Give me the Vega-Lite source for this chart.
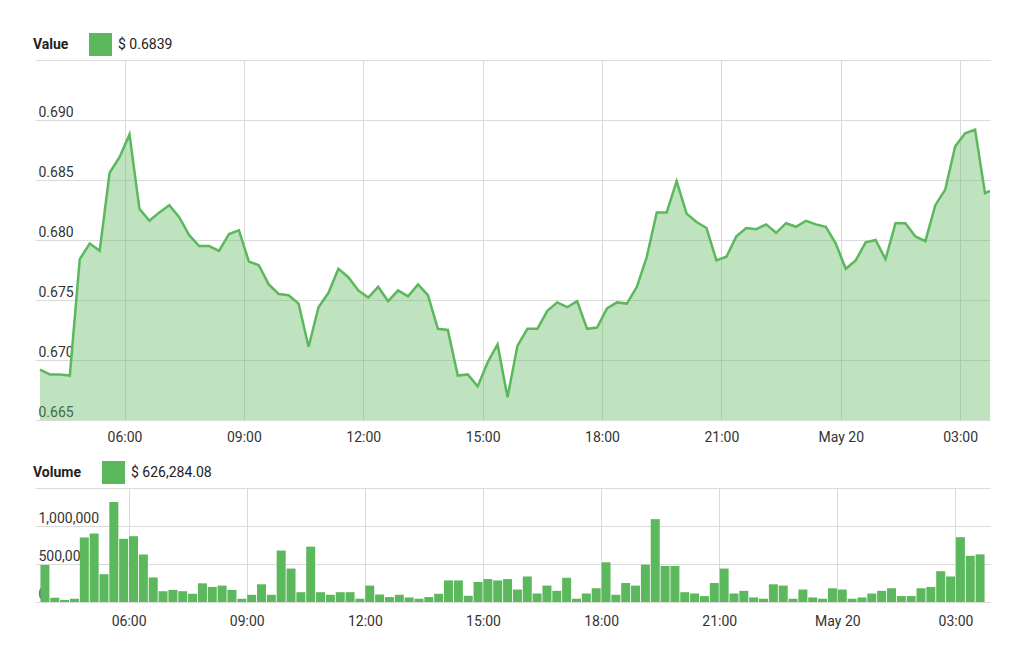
{
  "$schema": "https://vega.github.io/schema/vega-lite/v6.json",
  "background": "white",
  "padding": {"left": 33, "top": 33, "right": 5, "bottom": 5},
  "config": {
    "view": {"stroke": null},
    "font": "Roboto",
    "axis": {"domain": false, "ticks": false, "tickSize": 0, "title": null, "gridColor": "#dadada", "gridWidth": 1, "labelFontSize": 14, "labelColor": "#333333", "labelFont": "Roboto", "zindex": 1}
  },
  "data": {"values": [
    {"t": "2019-05-19T03:52:30Z", "value": 0.6692, "volume": 487000},
    {"t": "2019-05-19T04:07:30Z", "value": 0.6688, "volume": 56000},
    {"t": "2019-05-19T04:22:30Z", "value": 0.6688, "volume": 26000},
    {"t": "2019-05-19T04:37:30Z", "value": 0.6687, "volume": 43000},
    {"t": "2019-05-19T04:52:30Z", "value": 0.6784, "volume": 849000},
    {"t": "2019-05-19T05:07:30Z", "value": 0.6797, "volume": 901000},
    {"t": "2019-05-19T05:22:30Z", "value": 0.6791, "volume": 366000},
    {"t": "2019-05-19T05:37:30Z", "value": 0.6856, "volume": 1315000},
    {"t": "2019-05-19T05:52:30Z", "value": 0.6869, "volume": 832000},
    {"t": "2019-05-19T06:07:30Z", "value": 0.6888, "volume": 866000},
    {"t": "2019-05-19T06:22:30Z", "value": 0.6826, "volume": 625000},
    {"t": "2019-05-19T06:37:30Z", "value": 0.6816, "volume": 323000},
    {"t": "2019-05-19T06:52:30Z", "value": 0.6823, "volume": 142000},
    {"t": "2019-05-19T07:07:30Z", "value": 0.6829, "volume": 159000},
    {"t": "2019-05-19T07:22:30Z", "value": 0.6819, "volume": 142000},
    {"t": "2019-05-19T07:37:30Z", "value": 0.6804, "volume": 108000},
    {"t": "2019-05-19T07:52:30Z", "value": 0.6795, "volume": 246000},
    {"t": "2019-05-19T08:07:30Z", "value": 0.6795, "volume": 198000},
    {"t": "2019-05-19T08:22:30Z", "value": 0.6791, "volume": 216000},
    {"t": "2019-05-19T08:37:30Z", "value": 0.6805, "volume": 159000},
    {"t": "2019-05-19T08:52:30Z", "value": 0.6808, "volume": 43000},
    {"t": "2019-05-19T09:07:30Z", "value": 0.6782, "volume": 95000},
    {"t": "2019-05-19T09:22:30Z", "value": 0.6779, "volume": 233000},
    {"t": "2019-05-19T09:37:30Z", "value": 0.6763, "volume": 95000},
    {"t": "2019-05-19T09:52:30Z", "value": 0.6755, "volume": 677000},
    {"t": "2019-05-19T10:07:30Z", "value": 0.6754, "volume": 440000},
    {"t": "2019-05-19T10:22:30Z", "value": 0.6747, "volume": 129000},
    {"t": "2019-05-19T10:37:30Z", "value": 0.6711, "volume": 728000},
    {"t": "2019-05-19T10:52:30Z", "value": 0.6744, "volume": 129000},
    {"t": "2019-05-19T11:07:30Z", "value": 0.6756, "volume": 95000},
    {"t": "2019-05-19T11:22:30Z", "value": 0.6776, "volume": 129000},
    {"t": "2019-05-19T11:37:30Z", "value": 0.6769, "volume": 129000},
    {"t": "2019-05-19T11:52:30Z", "value": 0.6758, "volume": 43000},
    {"t": "2019-05-19T12:07:30Z", "value": 0.6752, "volume": 216000},
    {"t": "2019-05-19T12:22:30Z", "value": 0.6761, "volume": 99000},
    {"t": "2019-05-19T12:37:30Z", "value": 0.6749, "volume": 65000},
    {"t": "2019-05-19T12:52:30Z", "value": 0.6758, "volume": 95000},
    {"t": "2019-05-19T13:07:30Z", "value": 0.6753, "volume": 60000},
    {"t": "2019-05-19T13:22:30Z", "value": 0.6763, "volume": 43000},
    {"t": "2019-05-19T13:37:30Z", "value": 0.6754, "volume": 65000},
    {"t": "2019-05-19T13:52:30Z", "value": 0.6726, "volume": 108000},
    {"t": "2019-05-19T14:07:30Z", "value": 0.6725, "volume": 284000},
    {"t": "2019-05-19T14:22:30Z", "value": 0.6687, "volume": 284000},
    {"t": "2019-05-19T14:37:30Z", "value": 0.6688, "volume": 82000},
    {"t": "2019-05-19T14:52:30Z", "value": 0.6678, "volume": 263000},
    {"t": "2019-05-19T15:07:30Z", "value": 0.6698, "volume": 302000},
    {"t": "2019-05-19T15:22:30Z", "value": 0.6713, "volume": 284000},
    {"t": "2019-05-19T15:37:30Z", "value": 0.6669, "volume": 302000},
    {"t": "2019-05-19T15:52:30Z", "value": 0.6712, "volume": 164000},
    {"t": "2019-05-19T16:07:30Z", "value": 0.6726, "volume": 336000},
    {"t": "2019-05-19T16:22:30Z", "value": 0.6726, "volume": 112000},
    {"t": "2019-05-19T16:37:30Z", "value": 0.6741, "volume": 216000},
    {"t": "2019-05-19T16:52:30Z", "value": 0.6748, "volume": 147000},
    {"t": "2019-05-19T17:07:30Z", "value": 0.6744, "volume": 319000},
    {"t": "2019-05-19T17:22:30Z", "value": 0.6749, "volume": 43000},
    {"t": "2019-05-19T17:37:30Z", "value": 0.6726, "volume": 112000},
    {"t": "2019-05-19T17:52:30Z", "value": 0.6727, "volume": 181000},
    {"t": "2019-05-19T18:07:30Z", "value": 0.6743, "volume": 522000},
    {"t": "2019-05-19T18:22:30Z", "value": 0.6748, "volume": 95000},
    {"t": "2019-05-19T18:37:30Z", "value": 0.6747, "volume": 250000},
    {"t": "2019-05-19T18:52:30Z", "value": 0.6761, "volume": 216000},
    {"t": "2019-05-19T19:07:30Z", "value": 0.6786, "volume": 491000},
    {"t": "2019-05-19T19:22:30Z", "value": 0.6823, "volume": 1090000},
    {"t": "2019-05-19T19:37:30Z", "value": 0.6823, "volume": 474000},
    {"t": "2019-05-19T19:52:30Z", "value": 0.6849, "volume": 474000},
    {"t": "2019-05-19T20:07:30Z", "value": 0.6822, "volume": 129000},
    {"t": "2019-05-19T20:22:30Z", "value": 0.6815, "volume": 112000},
    {"t": "2019-05-19T20:37:30Z", "value": 0.6810, "volume": 78000},
    {"t": "2019-05-19T20:52:30Z", "value": 0.6783, "volume": 250000},
    {"t": "2019-05-19T21:07:30Z", "value": 0.6786, "volume": 440000},
    {"t": "2019-05-19T21:22:30Z", "value": 0.6803, "volume": 112000},
    {"t": "2019-05-19T21:37:30Z", "value": 0.6810, "volume": 147000},
    {"t": "2019-05-19T21:52:30Z", "value": 0.6809, "volume": 60000},
    {"t": "2019-05-19T22:07:30Z", "value": 0.6813, "volume": 43000},
    {"t": "2019-05-19T22:22:30Z", "value": 0.6806, "volume": 233000},
    {"t": "2019-05-19T22:37:30Z", "value": 0.6814, "volume": 216000},
    {"t": "2019-05-19T22:52:30Z", "value": 0.6811, "volume": 43000},
    {"t": "2019-05-19T23:07:30Z", "value": 0.6816, "volume": 164000},
    {"t": "2019-05-19T23:22:30Z", "value": 0.6813, "volume": 60000},
    {"t": "2019-05-19T23:37:30Z", "value": 0.6811, "volume": 43000},
    {"t": "2019-05-19T23:52:30Z", "value": 0.6797, "volume": 181000},
    {"t": "2019-05-20T00:07:30Z", "value": 0.6776, "volume": 164000},
    {"t": "2019-05-20T00:22:30Z", "value": 0.6783, "volume": 43000},
    {"t": "2019-05-20T00:37:30Z", "value": 0.6798, "volume": 60000},
    {"t": "2019-05-20T00:52:30Z", "value": 0.6800, "volume": 112000},
    {"t": "2019-05-20T01:07:30Z", "value": 0.6784, "volume": 147000},
    {"t": "2019-05-20T01:22:30Z", "value": 0.6814, "volume": 181000},
    {"t": "2019-05-20T01:37:30Z", "value": 0.6814, "volume": 78000},
    {"t": "2019-05-20T01:52:30Z", "value": 0.6803, "volume": 78000},
    {"t": "2019-05-20T02:07:30Z", "value": 0.6799, "volume": 181000},
    {"t": "2019-05-20T02:22:30Z", "value": 0.6829, "volume": 198000},
    {"t": "2019-05-20T02:37:30Z", "value": 0.6842, "volume": 405000},
    {"t": "2019-05-20T02:52:30Z", "value": 0.6878, "volume": 336000},
    {"t": "2019-05-20T03:07:30Z", "value": 0.6889, "volume": 853000},
    {"t": "2019-05-20T03:22:30Z", "value": 0.6892, "volume": 608000},
    {"t": "2019-05-20T03:37:30Z", "value": 0.6839, "volume": 626284.08},
    {"t": "2019-05-20T03:45:00Z", "value": 0.6841, "volume": null}
  ]},
  "resolve": {"scale": {"color": "independent", "x": "independent", "y": "independent"}, "legend": {"color": "independent"}},
  "spacing": 17,
  "vconcat": [
    {
      "width": 955,
      "height": 360,
      "encoding": {
        "x": {"field": "t", "type": "temporal",
          "scale": {"type": "utc", "domain": [1558237500000, 1558323900000]},
          "axis": {"values": [1558245600000, 1558256400000, 1558267200000, 1558278000000, 1558288800000, 1558299600000, 1558310400000, 1558321200000], "labelExpr": "utchours(datum.value) == 0 ? utcFormat(datum.value, '%b %d') : utcFormat(datum.value, '%H:%M')", "labelPadding": 10}},
        "y": {"field": "value", "type": "quantitative",
          "scale": {"domain": [0.665, 0.695]},
          "axis": {"values": [0.665, 0.67, 0.675, 0.68, 0.685, 0.69, 0.695], "labelExpr": "datum.value > 0.694 ? '' : format(datum.value, '.3f')", "labelAlign": "left", "labelBaseline": "bottom", "labelPadding": -3, "labelOffset": -1}}
      },
      "layer": [
        {"mark": {"type": "area", "color": "#5cb85c", "opacity": 0.4, "clip": true}, "encoding": {"y2": {"datum": 0.665}}},
        {"mark": {"type": "line", "strokeWidth": 2.5, "clip": true},
         "encoding": {"color": {"datum": "$ 0.6839", "scale": {"range": ["#5cb85c"]},
           "legend": {"title": "Value", "titleOrient": "left", "titleAnchor": "middle", "titleBaseline": "middle", "titlePadding": 20, "titleFontSize": 14, "titleFontWeight": "bold", "titleColor": "#222222", "titleFont": "Roboto", "orient": "none", "legendX": -2, "legendY": -27, "padding": 0, "symbolType": "square", "symbolSize": 529, "symbolFillColor": "#5cb85c", "symbolStrokeWidth": 0, "labelFontSize": 14, "labelColor": "#222222", "labelFont": "Roboto", "labelOffset": 6}}}}
      ]
    },
    {
      "width": 955,
      "height": 114,
      "mark": {"type": "bar", "width": 9, "clip": true},
      "encoding": {
        "x": {"field": "t", "type": "temporal",
          "scale": {"type": "utc", "domain": [1558237500000, 1558323900000]},
          "axis": {"values": [1558245600000, 1558256400000, 1558267200000, 1558278000000, 1558288800000, 1558299600000, 1558310400000, 1558321200000], "labelExpr": "utchours(datum.value) == 0 ? utcFormat(datum.value, '%b %d') : utcFormat(datum.value, '%H:%M')", "labelPadding": 12}},
        "y": {"field": "volume", "type": "quantitative",
          "scale": {"domain": [0, 1500000]},
          "axis": {"values": [0, 500000, 1000000, 1500000], "labelExpr": "datum.value > 1400000 ? '' : format(datum.value, ',')", "labelAlign": "left", "labelBaseline": "bottom", "labelPadding": -3, "labelOffset": -1}},
        "color": {"datum": "$ 626,284.08", "scale": {"range": ["#5cb85c"]},
          "legend": {"title": "Volume", "titleOrient": "left", "titleAnchor": "middle", "titleBaseline": "middle", "titlePadding": 21, "titleFontSize": 14, "titleFontWeight": "bold", "titleColor": "#222222", "titleFont": "Roboto", "orient": "none", "legendX": -2, "legendY": -27, "padding": 0, "symbolType": "square", "symbolSize": 529, "symbolStrokeWidth": 0, "symbolOpacity": 1, "labelFontSize": 14, "labelColor": "#222222", "labelFont": "Roboto", "labelOffset": 6}}
      }
    }
  ]
}
